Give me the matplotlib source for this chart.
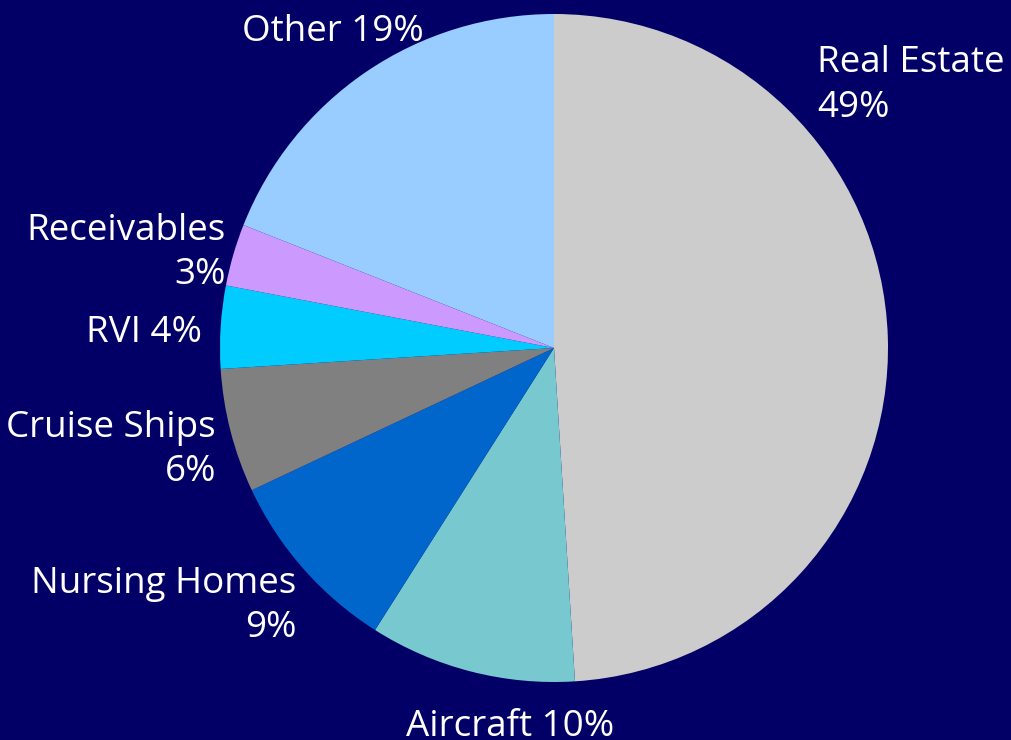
import matplotlib.pyplot as plt

plt.rcParams['font.family'] = ['Open Sans', 'DejaVu Sans']

# data (clockwise from 12 o'clock)
categories = ["Real Estate", "Aircraft", "Nursing Homes", "Cruise Ships",
              "RVI", "Receivables", "Other"]
shares = [49, 10, 9, 6, 4, 3, 19]
colors = ["#cccccc", "#77c9cf", "#0066cc", "#808080",
          "#00ccff", "#cc99ff", "#99ccff"]
label_texts = ["Real Estate\n49%", "Aircraft 10%", "Nursing Homes\n9%",
               "Cruise Ships\n6%", "RVI 4%", "Receivables\n3%", "Other 19%"]

bg = "#020066"

fig = plt.figure(figsize=(10.11, 7.40), dpi=100, facecolor=bg)
ax = fig.add_axes([220 / 1011, 58 / 740, 668 / 1011, 668 / 740])
ax.set_facecolor(bg)

ax.pie(shares, colors=colors, startangle=90, counterclock=False, radius=1,
       wedgeprops=dict(linewidth=0))
ax.set_xlim(-1, 1)
ax.set_ylim(-1, 1)
ax.set_aspect('equal')
ax.axis('off')

# label placement (x, y, ha) in pie-radius units
label_pos = {
    "Real Estate": (0.787, 0.785, 'left'),
    "Aircraft": (-0.132, -1.135, 'center'),
    "Nursing Homes": (-0.772, -0.772, 'right'),
    "Cruise Ships": (-1.012, -0.305, 'right'),
    "RVI": (-1.054, 0.045, 'right'),
    "Receivables": (-0.982, 0.284, 'right'),
    "Other": (-0.662, 0.945, 'center'),
}
for name, txt in zip(categories, label_texts):
    x, y, ha = label_pos[name]
    ax.text(x, y, txt, color='white', fontsize=26.5, ha=ha, va='center',
            multialignment=ha if ha != 'center' else 'center',
            linespacing=1.32, clip_on=False)

fig.savefig("out.png", dpi=100, facecolor=bg)
